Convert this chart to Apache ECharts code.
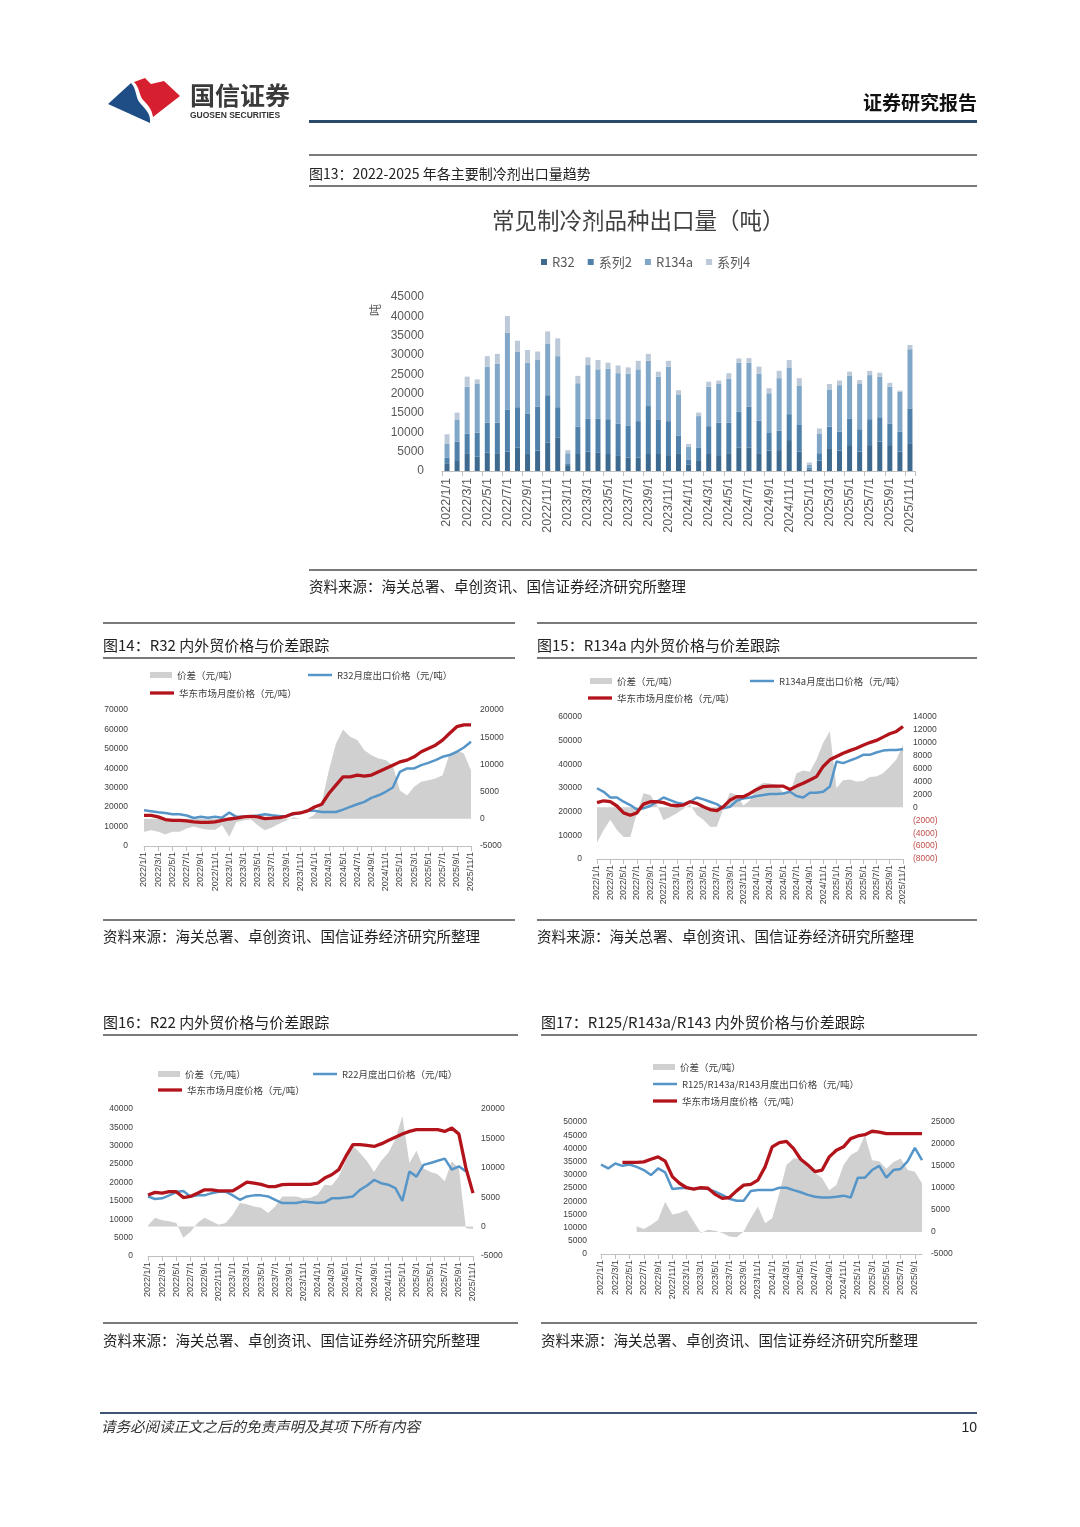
<!DOCTYPE html>
<html><head><meta charset="utf-8">
<script src="https://cdn.jsdelivr.net/npm/echarts@6/dist/echarts.min.js"></script>
<style>
html,body{margin:0;padding:0;background:#fff;}
#page{position:relative;width:1080px;height:1527px;overflow:hidden;font-family:"Noto Sans CJK SC","Noto Sans",sans-serif;color:#222;background:#fff;}
#chart{position:absolute;left:0;top:0;width:1080px;height:1527px;}
.t{position:absolute;white-space:nowrap;line-height:1;}
.l{position:absolute;}
</style></head>
<body><div id="page"><div id="chart"></div>
<svg class="l" style="left:0;top:0" width="200" height="140">
  <path d="M108,104 L131,83 C137,89 135,97 140,103 C146,110 151,114 150,123 Z" fill="#1f4e86"/>
  <path d="M134,82 L145,78 L151,84 L164,81 L180,96 L153,117 C152,109 147,104 143,100 C139,95 140,88 134,82 Z" fill="#d7202f"/>
</svg>
<div class="t" style="left:190px;top:82px;font-size:25px;font-weight:bold;color:#3a3a3a;">国信证券</div>
<div class="t" style="left:190px;top:111px;font-size:8.5px;font-weight:bold;font-family:'Liberation Sans';color:#333;">GUOSEN SECURITIES</div>
<div class="t" style="right:103px;top:92px;font-size:19px;font-weight:bold;color:#111;">证券研究报告</div>
<div class="l" style="left:309px;top:120px;width:668px;height:3px;background:#2a4a6c;"></div>

<div class="l" style="left:309px;top:154px;width:668px;height:1.5px;background:#7a7a7a;"></div>
<div class="t" style="left:309px;top:166px;font-size:14px;color:#222;">图13：2022-2025 年各主要制冷剂出口量趋势</div>
<div class="l" style="left:309px;top:185px;width:668px;height:1.5px;background:#7a7a7a;"></div>
<div class="l" style="left:309px;top:569px;width:668px;height:1.5px;background:#7a7a7a;"></div>
<div class="t" style="left:309px;top:579px;font-size:14.5px;color:#222;">资料来源：海关总署、卓创资讯、国信证券经济研究所整理</div>

<div class="l" style="left:103px;top:622px;width:412px;height:1.5px;background:#7a7a7a;"></div>
<div class="l" style="left:537px;top:622px;width:440px;height:1.5px;background:#7a7a7a;"></div>
<div class="t" style="left:103px;top:637px;font-size:15px;color:#222;">图14：R32 内外贸价格与价差跟踪</div>
<div class="t" style="left:537px;top:637px;font-size:15px;color:#222;">图15：R134a 内外贸价格与价差跟踪</div>
<div class="l" style="left:103px;top:657px;width:412px;height:1.5px;background:#7a7a7a;"></div>
<div class="l" style="left:537px;top:657px;width:440px;height:1.5px;background:#7a7a7a;"></div>
<div class="l" style="left:103px;top:919px;width:412px;height:1.5px;background:#7a7a7a;"></div>
<div class="l" style="left:537px;top:919px;width:440px;height:1.5px;background:#7a7a7a;"></div>
<div class="t" style="left:103px;top:929px;font-size:14.5px;color:#222;">资料来源：海关总署、卓创资讯、国信证券经济研究所整理</div>
<div class="t" style="left:537px;top:929px;font-size:14.5px;color:#222;">资料来源：海关总署、卓创资讯、国信证券经济研究所整理</div>

<div class="t" style="left:103px;top:1014px;font-size:15px;color:#222;">图16：R22 内外贸价格与价差跟踪</div>
<div class="t" style="left:541px;top:1014px;font-size:15px;color:#222;">图17：R125/R143a/R143 内外贸价格与价差跟踪</div>
<div class="l" style="left:103px;top:1034px;width:415px;height:1.5px;background:#7a7a7a;"></div>
<div class="l" style="left:541px;top:1034px;width:436px;height:1.5px;background:#7a7a7a;"></div>
<div class="l" style="left:103px;top:1322px;width:415px;height:1.5px;background:#7a7a7a;"></div>
<div class="l" style="left:541px;top:1322px;width:436px;height:1.5px;background:#7a7a7a;"></div>
<div class="t" style="left:103px;top:1333px;font-size:14.5px;color:#222;">资料来源：海关总署、卓创资讯、国信证券经济研究所整理</div>
<div class="t" style="left:541px;top:1333px;font-size:14.5px;color:#222;">资料来源：海关总署、卓创资讯、国信证券经济研究所整理</div>

<div class="l" style="left:100px;top:1412px;width:877px;height:1.5px;background:#3d5570;"></div>
<div class="t" style="left:101px;top:1419px;font-size:14.5px;font-style:italic;color:#333;">请务必阅读正文之后的免责声明及其项下所有内容</div>
<div class="t" style="right:103px;top:1420px;font-size:14px;font-family:'Liberation Sans';color:#222;">10</div>
</div>
<script>
// ---------- categories ----------
const months = ['2022/1/1','2022/2/1','2022/3/1','2022/4/1','2022/5/1','2022/6/1','2022/7/1','2022/8/1','2022/9/1','2022/10/1','2022/11/1','2022/12/1',
'2023/1/1','2023/2/1','2023/3/1','2023/4/1','2023/5/1','2023/6/1','2023/7/1','2023/8/1','2023/9/1','2023/10/1','2023/11/1','2023/12/1',
'2024/1/1','2024/2/1','2024/3/1','2024/4/1','2024/5/1','2024/6/1','2024/7/1','2024/8/1','2024/9/1','2024/10/1','2024/11/1','2024/12/1',
'2025/1/1','2025/2/1','2025/3/1','2025/4/1','2025/5/1','2025/6/1','2025/7/1','2025/8/1','2025/9/1','2025/10/1','2025/11/1'];
const months17 = months.slice(0, 46);

// ---------- Fig 13: export volume (tons) ----------
const exR32 = [2000,2800,4600,3700,4800,4600,5000,6100,4600,5300,7400,8700, 1500,4400,5000,4700,4400,3900,3500,3500,4400,4400,4100,4600, 1600,2800,4400,4100,4600,6100,6100,4600,5300,5400,8000,5000, 400,2700,5900,5300,6700,5000,6700,7600,6700,5000,7000];
const exS2 = [1400,4800,5100,6200,7700,7900,10900,10400,10300,11300,12200,7800, 500,7100,8600,8900,9000,8400,8300,9400,12400,8800,8800,4500, 1400,3300,7200,8400,7900,9200,10500,8400,4700,5000,6700,6900, 500,1900,5600,4900,6900,5800,6700,6300,5600,5200,9200];
const exR134a = [3600,5600,12100,12600,14500,15300,19900,14300,13100,12100,13400,13200, 2600,11200,13800,12700,13100,13000,13400,13400,11700,11200,14100,10700, 3300,8100,10200,10000,11400,12700,11400,12100,10100,13600,12100,10100, 700,5100,9600,12000,11000,11700,11400,10500,9500,10300,15300];
const exS4 = [2500,1900,2600,1200,2700,2500,4300,2900,3300,2200,3100,4600, 800,1900,2000,2400,1500,2000,1600,2200,1800,1300,1500,1100, 700,900,1300,900,1400,1100,1200,1900,1300,1900,1900,2000, 600,1300,1400,1200,1100,1000,1100,1000,1000,300,1100];

// ---------- Fig 14: R32 (元/吨) ----------
const r32Spread = [-2400,-2100,-2400,-2900,-2400,-2400,-1800,-1400,-1800,-2000,-2000,-1200, -3300,-600,-300,-100,-1200,-2100,-1600,-900,-300,300,0,0, 800,3000,8900,13800,16400,15100,14500,12600,11700,11100,10800,9800, 5200,4300,5900,6800,7100,7400,8000,12000,12600,12000,8900];
const r32Export = [18400,17900,17400,17000,16300,16300,15700,14400,15000,14600,15000,14600, 17200,15000,15000,15300,15700,16300,15800,15500,15300,16300,17000,18100, 18100,17500,17500,17500,18700,20100,21500,22700,24800,26100,27900,30100, 38200,39900,39900,41600,42800,44200,45900,46800,48500,50700,53700];
const r32East = [15800,15800,15000,13600,13200,13200,12900,12400,12200,12200,12400,13200, 13900,14300,15000,15300,15000,14100,14300,14600,15300,16700,17000,18100, 20100,21500,27000,31300,35600,35600,36500,36000,36500,38200,39900,41600, 43300,44200,45900,48500,50200,51900,54500,58000,61400,62300,62300];

// ---------- Fig 15: R134a ----------
const r134aSpread = [-5500,-3500,-1900,-3500,-4600,-4600,-900,2200,1900,400,-2000,-1500, -900,-200,400,-1200,-1900,-3000,-3000,-200,2300,1900,300,1100, 3200,3800,3700,3500,2300,2200,5300,5700,5500,7400,10000,11800, 3000,4200,4300,4000,4100,4700,4800,5300,6300,7400,9700];
const r134aExport = [29900,28400,26000,26000,24200,22800,20900,21400,22400,24200,26000,24900, 23800,23200,24200,26000,25200,24200,23200,21400,22100,24600,25600,26000, 26600,27000,27500,27500,27700,28400,26600,26000,28000,28000,28400,30600, 41200,40500,41600,42600,44000,44000,45000,45800,46100,46100,46400];
const r134aEast = [23800,24600,24200,22400,19500,18500,19500,23200,24200,24200,23800,22800, 22500,22800,24200,23500,22100,20900,20400,22100,24900,26300,26300,27700, 29400,30600,30800,30800,30800,29400,30800,32000,33400,34800,39100,41900, 43300,44700,45800,46800,48100,49200,50100,51500,52900,53900,56000];

// ---------- Fig 16: R22 ----------
const r22Spread = [200,1500,1100,900,600,-1900,-900,600,1500,900,300,600, 2000,4000,3800,3400,3200,2300,3400,5100,5100,5100,4800,4900, 5400,7100,7000,8500,11200,13800,12500,11100,9300,11200,12500,14800, 18800,10800,12900,9900,9300,8900,7700,11100,9900,-300,-400];
const r22Export = [16200,15500,15700,16500,17400,17700,16200,16500,16500,17100,17500,17500, 16500,15300,16200,16500,16500,16200,15300,14400,14400,14400,14800,14600, 14400,14600,15700,15700,15900,16200,18000,19200,20700,19800,19400,18500, 15000,23000,21600,24800,25300,25900,26500,23500,24400,23000,null];
const r22East = [16600,17300,17100,17500,17500,15900,16200,17100,18000,18000,17700,17700, 17700,18900,20100,19800,19500,18900,18900,19400,19500,19500,19500,19500, 19800,21200,22100,23500,27100,30300,30300,30100,29800,30500,31400,32300, 33200,33900,34400,34400,34400,34400,33900,34800,33200,23900,17100];

// ---------- Fig 17: R125/R143a/R143 ----------
const r125Spread = [null,null,null,null,null,1300,700,1600,2800,6900,4000,4300, 5000,2400,-200,500,300,-200,-1000,-1200,100,3100,5800,2000, 3100,8800,15200,16700,16700,14600,13500,12200,9500,10700,15200,17500, 18400,22000,16300,16100,14400,15900,16700,14100,13700,11100];
const r125Export = [33900,32400,34300,33400,33900,33000,31800,29900,32400,30900,24600,24900, 25100,24600,24900,24600,23600,22400,20900,20200,20200,23900,24200,24200, 24200,25100,25100,24200,23400,22400,21700,21400,21400,21700,22100,21400, 28900,28900,31800,33400,28900,31800,32200,35200,40200,35600];
const r125East = [null,null,null,34700,34700,34700,34900,35900,36800,35200,29300,26800, 25100,24600,25100,24900,22600,21100,21400,23900,26100,26400,28000,33000, 40600,42200,42700,39900,35900,33700,31200,31800,36800,39300,40600,43700, 44700,45200,46500,46200,45600,45600,45600,45600,45600,45600];

// ---------- styles ----------
const GRAY = '#d0d0d0', BLUE = '#5595c8', RED = '#b3141c';
const CJK = "'Noto Sans CJK SC', 'Noto Sans', sans-serif";
const NUM = "'Liberation Sans', Arial, sans-serif";
const SPREAD = '价差（元/吨）', EAST = '华东市场月度价格（元/吨）';
const plain = v => String(v);

const option = {
  animation: false,
  backgroundColor: 'transparent',
  title: [{text: '常见制冷剂品种出口量（吨）', left: 492, top: 209, padding: 0,
    textStyle: {fontSize: 22.5, fontWeight: 'normal', color: '#404040', fontFamily: CJK}}],
  legend: [], grid: [], xAxis: [], yAxis: [], series: [],
  graphic: [{type: 'text', left: 369, top: 304, rotation: Math.PI / 2,
    style: {text: '吨', font: "12px 'Noto Sans CJK SC'", fill: '#595959'}}]
};

// main stacked bar chart
option.grid.push({left: 442, top: 297, width: 473, height: 174});
option.xAxis.push({type: 'category', gridIndex: 0, data: months, boundaryGap: true,
  axisLine: {lineStyle: {color: '#bfbfbf'}}, axisTick: {show: true, interval: 1, lineStyle: {color: '#bfbfbf'}},
  axisLabel: {rotate: 90, interval: 1, fontSize: 12.5, color: '#595959', margin: 7, fontFamily: NUM}});
option.yAxis.push({type: 'value', gridIndex: 0, min: 0, max: 45000, interval: 5000,
  axisLine: {show: false}, axisTick: {show: false}, splitLine: {show: false},
  axisLabel: {fontSize: 12, color: '#595959', margin: 18, fontFamily: NUM, formatter: plain}});
const barDefs = [['R32', exR32, '#3d6a8e'], ['系列2', exS2, '#4f81aa'], ['R134a', exR134a, '#80a6c8'], ['系列4', exS4, '#bcc9d8']];
barDefs.forEach(([name, data, color]) => option.series.push({
  type: 'bar', name, data, stack: 'ex', xAxisIndex: 0, yAxisIndex: 0, barWidth: 5,
  itemStyle: {color}
}));
option.legend.push({data: barDefs.map(d => d[0]), left: 541, top: 255, padding: 0, icon: 'rect',
  itemWidth: 6, itemHeight: 6, itemGap: 13, textStyle: {fontSize: 13, color: '#595959', fontFamily: CJK, lineHeight: 14}});

function small(cfg) {
  const gi = option.grid.length;
  option.grid.push(cfg.grid);
  option.xAxis.push({type: 'category', gridIndex: gi, data: cfg.cats, boundaryGap: false,
    axisLine: {lineStyle: {color: '#bfbfbf'}}, axisTick: {show: true, interval: 1, lineStyle: {color: '#bfbfbf'}},
    axisLabel: {rotate: 90, interval: 1, fontSize: 9, color: '#404040', margin: 6, fontFamily: NUM}});
  const yl = option.yAxis.length;
  option.yAxis.push({type: 'value', gridIndex: gi, position: 'left', min: 0, max: cfg.lmax, interval: cfg.lint,
    axisLine: {show: false}, axisTick: {show: false}, splitLine: {show: false},
    axisLabel: {fontSize: 8.5, color: '#404040', margin: cfg.lmargin, fontFamily: NUM, formatter: plain}});
  option.yAxis.push({type: 'value', gridIndex: gi, position: 'right', min: cfg.rmin, max: cfg.rmax, interval: cfg.rint,
    axisLine: {show: false}, axisTick: {show: false}, splitLine: {show: false},
    axisLabel: {fontSize: 8.5, margin: cfg.rmargin, fontFamily: NUM,
      formatter: v => cfg.paren && v < 0 ? '(' + (-v) + ')' : String(v),
      color: v => (cfg.paren && Number(v) < 0) ? '#c0504d' : '#404040'}});
  option.series.push({type: 'line', name: SPREAD, data: cfg.spread, xAxisIndex: gi, yAxisIndex: yl + 1,
    showSymbol: false, symbol: 'none', lineStyle: {width: 0, color: GRAY}, itemStyle: {color: GRAY},
    areaStyle: {color: GRAY, opacity: 1}, z: 1});
  option.series.push({type: 'line', name: cfg.blueName, data: cfg.exp, xAxisIndex: gi, yAxisIndex: yl,
    showSymbol: false, symbol: 'none', lineStyle: {width: 2.5, color: BLUE}, itemStyle: {color: BLUE}, z: 3});
  option.series.push({type: 'line', name: EAST, data: cfg.east, xAxisIndex: gi, yAxisIndex: yl,
    showSymbol: false, symbol: 'none', lineStyle: {width: 3.3, color: RED}, itemStyle: {color: RED}, z: 4});
  const lt = {fontSize: 9.5, color: '#404040', fontFamily: CJK, lineHeight: 12};
  option.legend.push({data: [{name: SPREAD, itemStyle: {color: GRAY}}], left: cfg.lg[0], top: cfg.lg[1] - 6, padding: 0,
    icon: 'rect', itemWidth: 22, itemHeight: 6, textStyle: lt});
  option.legend.push({data: [{name: cfg.blueName, itemStyle: {color: BLUE}}], left: cfg.lb[0], top: cfg.lb[1] - 6, padding: 0,
    icon: 'rect', itemWidth: 24, itemHeight: 2.5, textStyle: lt});
  option.legend.push({data: [{name: EAST, itemStyle: {color: RED}}], left: cfg.lr[0], top: cfg.lr[1] - 6, padding: 0,
    icon: 'rect', itemWidth: 24, itemHeight: 3.3, textStyle: lt});
}

small({grid: {left: 144, top: 710, width: 327, height: 136}, cats: months,
  lmax: 70000, lint: 10000, rmin: -5000, rmax: 20000, rint: 5000, lmargin: 16, rmargin: 9,
  spread: r32Spread, exp: r32Export, east: r32East, blueName: 'R32月度出口价格（元/吨）',
  lg: [150, 675], lb: [308, 675], lr: [150, 693]});
small({grid: {left: 597, top: 717, width: 306, height: 142}, cats: months,
  lmax: 60000, lint: 10000, rmin: -8000, rmax: 14000, rint: 2000, lmargin: 15, rmargin: 10, paren: true,
  spread: r134aSpread, exp: r134aExport, east: r134aEast, blueName: 'R134a月度出口价格（元/吨）',
  lg: [590, 681], lb: [750, 681], lr: [588, 698]});
small({grid: {left: 148, top: 1109, width: 325, height: 147}, cats: months,
  lmax: 40000, lint: 5000, rmin: -5000, rmax: 20000, rint: 5000, lmargin: 15, rmargin: 8,
  spread: r22Spread, exp: r22Export, east: r22East, blueName: 'R22月度出口价格（元/吨）',
  lg: [158, 1074], lb: [313, 1074], lr: [158, 1090]});
small({grid: {left: 601, top: 1122, width: 321, height: 132}, cats: months17,
  lmax: 50000, lint: 5000, rmin: -5000, rmax: 25000, rint: 5000, lmargin: 14, rmargin: 9,
  spread: r125Spread, exp: r125Export, east: r125East, blueName: 'R125/R143a/R143月度出口价格（元/吨）',
  lg: [653, 1067], lb: [653, 1084], lr: [653, 1101]});

const chart = echarts.init(document.getElementById('chart'), null, {renderer: 'canvas'});
chart.setOption(option);
</script>
</body></html>
